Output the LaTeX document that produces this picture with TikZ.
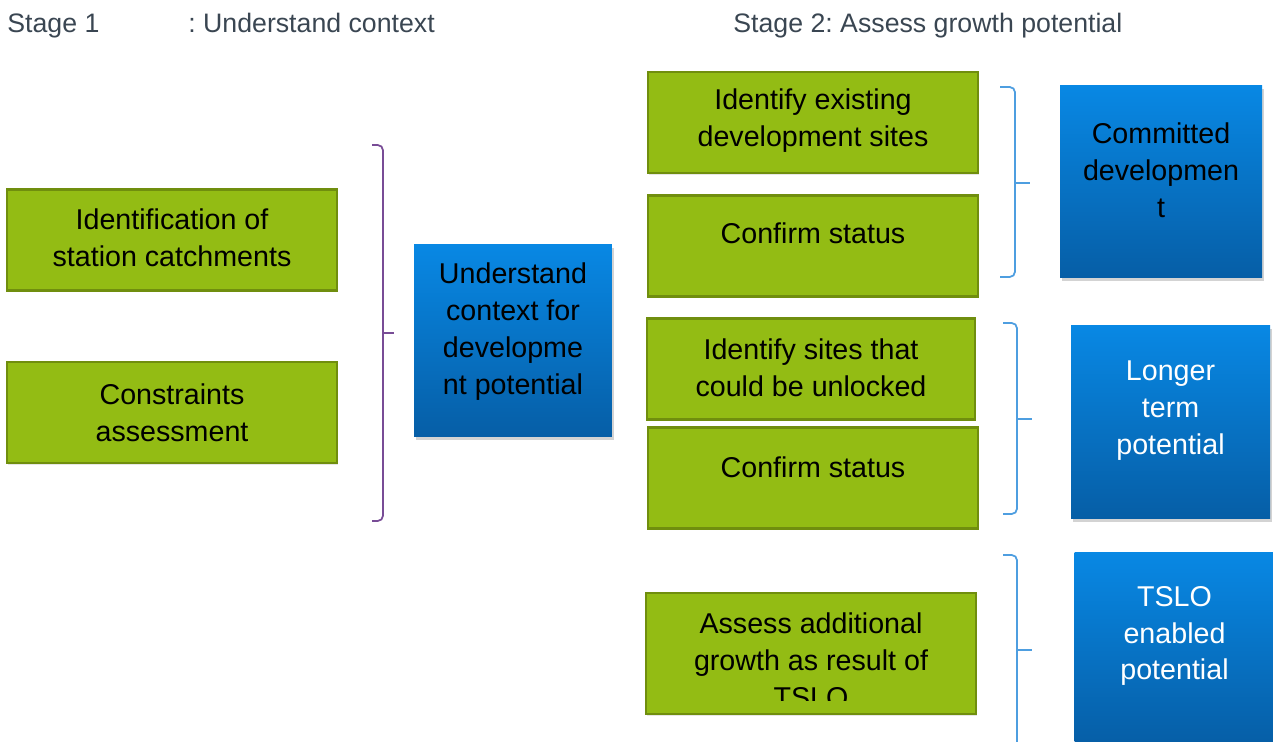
\documentclass[tikz,border=0pt]{standalone}
\usepackage{fontspec}
\setmainfont{Liberation Sans}
\usetikzlibrary{shadows}
\frenchspacing

\definecolor{leafgreen}{RGB}{147,188,20}
\definecolor{leafedge}{RGB}{112,142,14}
\definecolor{skyblue}{RGB}{8,136,228}
\definecolor{deepblue}{RGB}{6,94,166}
\definecolor{bracepurple}{RGB}{120,76,150}
\definecolor{braceblue}{RGB}{78,158,224}
\definecolor{headgrey}{RGB}{58,70,82}

\begin{document}
\begin{tikzpicture}[x=0.02cm,y=-0.02cm,
  task/.style={rectangle,draw=leafedge,fill=leafgreen,line width=1.5pt,
    minimum width=6.6cm,minimum height=2.02cm,inner sep=0pt,
    drop shadow={opacity=0.2,shadow xshift=0.5pt,shadow yshift=-1pt}},
  outcome/.style={rectangle,top color=skyblue,bottom color=deepblue,
    minimum width=4cm,minimum height=3.86cm,inner sep=0pt,
    drop shadow={opacity=0.35,shadow xshift=1pt,shadow yshift=-2pt}},
  words/.style={align=center,inner sep=0pt,font=\fontsize{16.3}{21}\selectfont},
  heading/.style={anchor=base west,text=headgrey,inner sep=0pt,
    font=\fontsize{15.2}{18}\selectfont},
  brace/.style={line width=1pt,rounded corners=3pt}]

  \clip (0,0) rectangle (1273,742);

  % headings
  \node[heading] (stageone) at (7,33) {Stage 1};
  \node[heading] (stageonetitle) at (188,33) {: Understand context};
  \node[heading] (stagetwo) at (733,33) {Stage 2: Assess growth potential};

  % stage 1
  \node[task, label={[words,yshift=0.05cm]center:{Identification of\\station catchments}}] (catchments) at (172,240) {};
  \node[task, label={[words]center:{Constraints\\assessment}}] (constraints) at (172,412.5) {};
  \node[outcome, minimum width=3.96cm, label={[words,yshift=0.18cm]center:{Understand\\context for\\developme\\nt potential}}] (context) at (513,340.5) {};

  \draw[brace,draw=bracepurple] (372,145) -| (383,521) -- (372,521);
  \draw[brace,draw=bracepurple] (383,333) -- (394,333);

  % stage 2: committed
  \node[task, label={[words,yshift=0.03cm]center:{Identify existing\\development sites}}] (existing) at (813,122.5) {};
  \node[task, label={[words,yshift=0.26cm]center:{Confirm status}}] (statusA) at (813,246) {};
  \node[outcome, minimum width=4.04cm, label={[words,yshift=0.23cm]center:{Committed\\developmen\\t}}] (committed) at (1161,181.5) {};

  \draw[brace,draw=braceblue] (1000,87) -| (1015,277) -- (1000,277);
  \draw[brace,draw=braceblue] (1015,183) -- (1030,183);

  % stage 2: longer term
  \node[task, minimum width=6.56cm, label={[words,yshift=0.02cm]center:{Identify sites that\\could be unlocked}}] (unlocked) at (811,369) {};
  \node[task, label={[words,yshift=0.22cm]center:{Confirm status}}] (statusB) at (813,478) {};
  \node[outcome, minimum width=3.98cm, label={[words,text=white,yshift=0.22cm]center:{Longer\\term\\potential}}] (longer) at (1170.5,422) {};

  \draw[brace,draw=braceblue] (1003,323) -| (1017,514) -- (1003,514);
  \draw[brace,draw=braceblue] (1017,419) -- (1032,419);

  % stage 2: TSLO
  \node[task, minimum height=2.42cm] (growth) at (811,653.5) {};
  \begin{scope}
    \clip (646,593) rectangle (976,700);
    \node[words] (growthtext) at (811,660) {Assess additional\\growth as result of\\TSLO};
  \end{scope}
  \node[outcome, label={[words,text=white,yshift=0.25cm]center:{TSLO\\enabled\\potential}}] (tslo) at (1174.5,648.5) {};

  \draw[brace,draw=braceblue] (1003,555) -| (1017,760);
  \draw[brace,draw=braceblue] (1017,650) -- (1032,650);
\end{tikzpicture}
\end{document}
